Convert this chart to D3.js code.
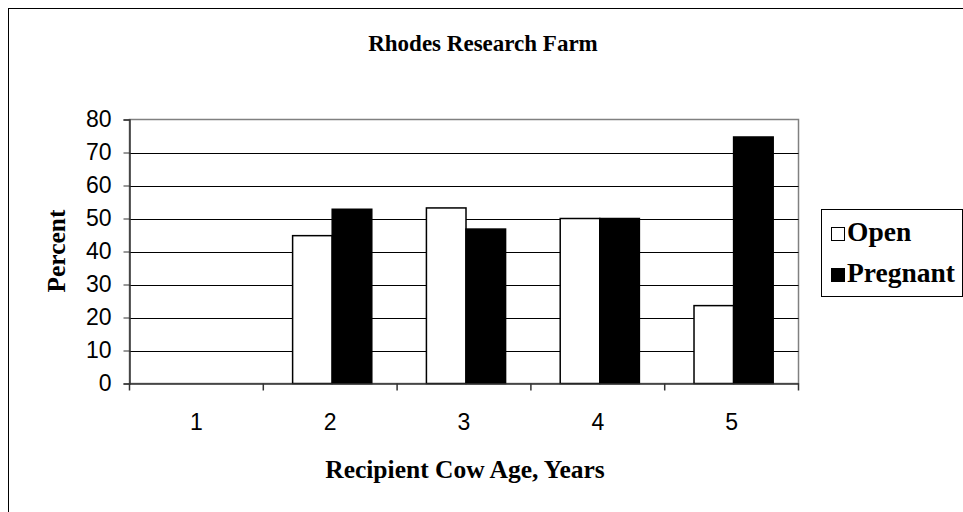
<!DOCTYPE html>
<html>
<head>
<meta charset="utf-8">
<script src="https://cdn.jsdelivr.net/npm/d3@7"></script>
<style>
html,body{margin:0;padding:0;background:#fff;}
svg{display:block;}
</style>
</head>
<body>
<svg id="chart" width="963" height="512"></svg>
<script>
const categories = ["1", "2", "3", "4", "5"];
const seriesNames = ["Open", "Pregnant"];
const openValues = [0, 44.8, 53.2, 50, 23.6];
const pregnantValues = [0, 52.8, 46.8, 50, 74.7];
const yTicks = [0, 10, 20, 30, 40, 50, 60, 70, 80];
const titleText = "Rhodes Research Farm";
const xTitle = "Recipient Cow Age, Years";
const yTitle = "Percent";

const svg = d3.select("#chart");
const serif = "'Liberation Serif','Times New Roman',serif";
const sans = "'Liberation Sans',Arial,sans-serif";

// outer border
svg.append("rect").attr("x", 8.5).attr("y", 8.5).attr("width", 970).attr("height", 520)
  .attr("fill", "#fff").attr("stroke", "#000").attr("stroke-width", 1);

const L = 129.5, R = 798.5, T = 119.5, B = 383.5;
const x = d3.scaleBand().domain(categories).range([L, R]).paddingInner(0).paddingOuter(0);
const xs = d3.scaleBand().domain(seriesNames).range([2, x.bandwidth() + 2]).paddingInner(0).paddingOuter(0.69);
const y = d3.scaleLinear().domain([0, 80]).range([B, T]);

// plot area border (top/right gray)
svg.append("rect").attr("x", L).attr("y", T).attr("width", R - L).attr("height", B - T)
  .attr("fill", "#fff").attr("stroke", "#808080").attr("stroke-width", 1.5);

// gridlines
svg.append("g").selectAll("line").data(yTicks.filter(d => d > 0 && d < 80)).join("line")
  .attr("x1", L).attr("x2", R).attr("y1", d => Math.round(y(d)) + 0.5).attr("y2", d => Math.round(y(d)) + 0.5)
  .attr("stroke", "#000").attr("stroke-width", 1);

// bars
const data = categories.map((c, i) => ({ cat: c, vals: [
  { s: "Open", v: openValues[i] }, { s: "Pregnant", v: pregnantValues[i] }] }));
const colors = { Open: "#fff", Pregnant: "#000" };
svg.append("g").selectAll("g").data(data).join("g")
  .attr("transform", d => `translate(${x(d.cat)},0)`)
  .selectAll("rect").data(d => d.vals.filter(e => e.v > 0)).join("rect")
  .attr("x", d => xs(d.s)).attr("width", xs.bandwidth())
  .attr("y", d => y(d.v)).attr("height", d => y(0) - y(d.v))
  .attr("fill", d => colors[d.s]).attr("stroke", "#000").attr("stroke-width", 1.5);

// y axis
const yAxis = d3.axisLeft(y).tickValues(yTicks).tickSize(6).tickPadding(12);
const gy = svg.append("g").attr("transform", `translate(${L},0)`).call(yAxis);
gy.select(".domain").attr("stroke", "#333").attr("stroke-width", 1.5);
gy.selectAll(".tick line").attr("stroke", "#333");
gy.selectAll(".tick text").attr("font-family", sans).attr("font-size", 23).attr("fill", "#000");

// x axis
const xAxis = d3.axisBottom(x).tickSize(0).tickPadding(0);
const gx = svg.append("g").attr("transform", `translate(0,${B})`).call(xAxis);
gx.select(".domain").attr("stroke", "#333").attr("stroke-width", 1.5);
gx.selectAll(".tick text").attr("font-family", sans).attr("font-size", 23).attr("fill", "#000")
  .attr("dy", 0).attr("y", 46);
// boundary ticks
const bounds = categories.map(c => x(c)).concat([R]);
gx.append("g").selectAll("line").data(bounds).join("line")
  .attr("x1", d => d).attr("x2", d => d).attr("y1", 0).attr("y2", 7)
  .attr("stroke", "#333").attr("stroke-width", 1.5);

// titles
svg.append("text").attr("x", 483).attr("y", 51).attr("text-anchor", "middle")
  .attr("font-family", serif).attr("font-weight", "bold").attr("font-size", 23).text(titleText);
svg.append("text").attr("x", 465).attr("y", 478).attr("text-anchor", "middle")
  .attr("font-family", serif).attr("font-weight", "bold").attr("font-size", 25.5).text(xTitle);
svg.append("text").attr("transform", "translate(65,251) rotate(-90)").attr("text-anchor", "middle")
  .attr("font-family", serif).attr("font-weight", "bold").attr("font-size", 25.5).text(yTitle);

// legend
svg.append("rect").attr("x", 821.5).attr("y", 209.5).attr("width", 141).attr("height", 87)
  .attr("fill", "#fff").attr("stroke", "#000").attr("stroke-width", 1);
const lg = svg.append("g").selectAll("g").data(seriesNames).join("g")
  .attr("transform", (d, i) => `translate(831,${227 + i * 41})`);
lg.append("rect").attr("x", 0.5).attr("y", 0.5).attr("width", 13).attr("height", 13)
  .attr("fill", d => colors[d]).attr("stroke", "#000").attr("stroke-width", 1);
lg.append("text").attr("x", 16).attr("y", 14).attr("font-family", serif).attr("font-weight", "bold")
  .attr("font-size", 27.5).text(d => d);
</script>
</body>
</html>
